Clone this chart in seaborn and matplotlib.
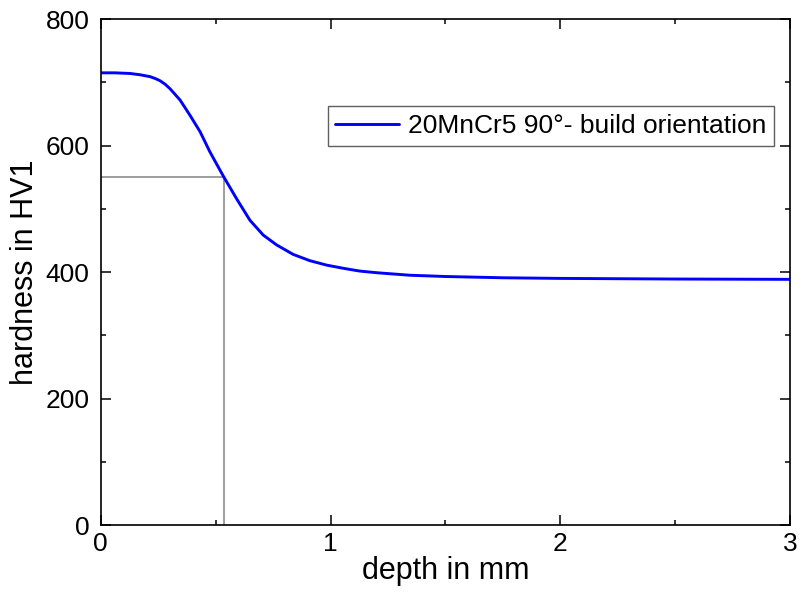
import matplotlib
matplotlib.use("Agg")
from matplotlib import pyplot as plt
from matplotlib.ticker import MultipleLocator
import pandas as pd
import seaborn as sns

# hardness profile
depth = [0.0, 0.06, 0.127, 0.17, 0.214, 0.237, 0.258, 0.28, 0.301, 0.345,
         0.388, 0.432, 0.475, 0.519, 0.536, 0.591, 0.649, 0.707, 0.765,
         0.837, 0.91, 0.983, 1.055, 1.127, 1.2, 1.345, 1.5, 1.75, 2.0,
         2.5, 3.0]
hardness = [715, 715, 714, 712, 709, 706, 702.5, 697, 690, 672,
            648, 622, 590, 561, 550, 516, 482, 458.5, 443,
            428, 418, 411, 406, 401.6, 399, 395, 393, 391, 390,
            389, 388.5]
label = '20MnCr5 90°- build orientation'

# marker for the 550 HV1 limit
limit_depth = 0.535
limit_hv = 550

df = pd.DataFrame({'depth': depth, 'hardness': hardness})

sns.set_theme(style='ticks')
plt.rcParams['font.family'] = ['Liberation Sans', 'DejaVu Sans']
plt.rcParams['text.color'] = 'black'
plt.rcParams['axes.labelcolor'] = 'black'
plt.rcParams['xtick.labelcolor'] = 'black'
plt.rcParams['ytick.labelcolor'] = 'black'

fig = plt.figure(figsize=(8, 5.96), dpi=100)
ax = fig.add_axes([0.126, 0.119, 0.8615, 0.849])

sns.lineplot(ax=ax, data=df, x='depth', y='hardness', color='#0000ff',
             linewidth=2.1, label=label)

ax.plot([0, limit_depth], [limit_hv, limit_hv], color='#8c8c8c', linewidth=1.2, zorder=1)
ax.plot([limit_depth, limit_depth], [0, limit_hv], color='#8c8c8c', linewidth=1.2, zorder=1)

ax.set_xlim(0, 3)
ax.set_ylim(0, 800)
ax.xaxis.set_major_locator(MultipleLocator(1))
ax.xaxis.set_minor_locator(MultipleLocator(0.5))
ax.yaxis.set_major_locator(MultipleLocator(200))
ax.yaxis.set_minor_locator(MultipleLocator(100))

ax.tick_params(which='both', direction='in', top=True, right=True,
               width=1.1, color='black', labelsize=19)
ax.tick_params(axis='x', pad=5)
ax.tick_params(axis='y', pad=8)
ax.tick_params(which='major', length=7)
ax.tick_params(which='minor', length=3.5)
for s in ax.spines.values():
    s.set_linewidth(1.2)
    s.set_color('black')

ax.set_xlabel('depth in mm', fontsize=22, labelpad=0)
ax.set_ylabel('hardness in HV1', fontsize=22, labelpad=4)

leg = ax.legend(loc='upper left', bbox_to_anchor=(0.329, 0.828), fontsize=19,
                fancybox=False, framealpha=1, edgecolor='#606060',
                handlelength=2.4, handletextpad=0.35, borderpad=0.3,
                borderaxespad=0)
leg.get_frame().set_linewidth(1.0)

plt.savefig('out.png', dpi=100)
